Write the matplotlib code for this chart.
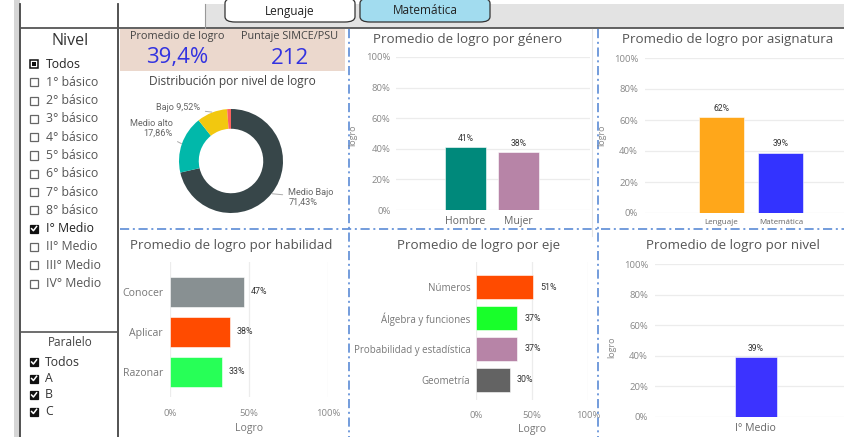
import matplotlib
matplotlib.use('Agg')
import matplotlib.pyplot as plt
from matplotlib.patches import Rectangle, FancyBboxPatch
from matplotlib.lines import Line2D
from matplotlib.ticker import PercentFormatter, MultipleLocator
import numpy as np

plt.rcParams['font.family'] = ['Open Sans', 'DejaVu Sans']

# slicers
niveles = ['Todos', '1° básico', '2° básico', '3° básico', '4° básico', '5° básico',
           '6° básico', '7° básico', '8° básico', 'I° Medio', 'II° Medio',
           'III° Medio', 'IV° Medio']
nivel_sel = ['I° Medio']
paralelos = ['Todos', 'A', 'B', 'C']
asignatura_btn = ['Lenguaje', 'Matemática']

# KPIs
promedio_logro = 39.4
puntaje_simce = 212

# distribucion por nivel de logro (%)
dist_labels = ['Medio Bajo', 'Medio alto', 'Bajo', 'Alto']
dist_values = [71.43, 17.86, 9.52, 1.19]
dist_colors = ['#374649', '#01b8aa', '#f2c80f', '#fd625e']

genero = ['Hombre', 'Mujer']
logro_genero = [0.41, 0.38]
asignaturas = ['Lenguaje', 'Matemática']
logro_asig = [0.62, 0.39]
habilidades = ['Conocer', 'Aplicar', 'Razonar']
logro_hab = [0.47, 0.38, 0.33]
ejes = ['Números', 'Álgebra y funciones', 'Probabilidad y estadística', 'Geometría']
logro_eje = [0.51, 0.37, 0.37, 0.30]
nivel_cat = ['I° Medio']
logro_nivel = [0.39]

W, H = 845, 437
fig = plt.figure(figsize=(W / 100, H / 100), dpi=100)

def box(x0, y0, x1, y1):
    return [x0 / W, 1 - y1 / H, (x1 - x0) / W, (y1 - y0) / H]

def ftext(x, y, s, **kw):
    kw.setdefault('ha', 'center')
    kw.setdefault('va', 'center')
    return fig.text(x / W, 1 - y / H, s, **kw)

def fline(xs, ys, **kw):
    fig.add_artist(Line2D([x / W for x in xs], [1 - y / H for y in ys],
                          transform=fig.transFigure, **kw))

def frect(x0, y0, x1, y1, **kw):
    fig.add_artist(Rectangle((x0 / W, 1 - y1 / H), (x1 - x0) / W, (y1 - y0) / H,
                             transform=fig.transFigure, **kw))

# --- page chrome ---
frect(14, 0, 20, H, fc='#d6d6d6', ec='none')
frect(205, 4, W, 28, fc='#e3e3e3', ec='none')
fline([20, 20], [4, H], color='#444', lw=1.3)
fline([118, 118], [4, H], color='#444', lw=1.3)
fline([20, W], [28, 28], color='#555', lw=1.3)
fline([20, 118], [332, 332], color='#555', lw=1.2)
fline([205, 205], [4, 28], color='#999', lw=0.8)

btn_x = [225, 360]
btn_fc = ['white', '#a2dcef']
for name, x, fc in zip(asignatura_btn, btn_x, btn_fc):
    fig.add_artist(FancyBboxPatch(((x) / W, 1 - 22 / H), 130 / W, 24 / H,
                                  boxstyle='round,pad=0,rounding_size=0.012',
                                  transform=fig.transFigure, fc=fc, ec='#333', lw=0.9))
    ftext(x + 65, 11, name, fontsize=8.5, color='#222')

# --- slicers ---
def checkbox(x, y, state):
    s = 8
    if state == 'off':
        frect(x, y - s / 2, x + s, y + s / 2, fc='white', ec='#666', lw=0.9)
    elif state == 'partial':
        frect(x, y - s / 2, x + s, y + s / 2, fc='white', ec='#111', lw=1.1)
        frect(x + 2, y - s / 2 + 2, x + s - 2, y + s / 2 - 2, fc='#111', ec='none')
    else:
        frect(x, y - s / 2, x + s, y + s / 2, fc='#111', ec='#111', lw=0.9)
        fline([x + 1.6, x + 3.4, x + 6.6], [y, y + 2, y - 2.2], color='white', lw=1.1)

ftext(70, 41, 'Nivel', fontsize=11.5, color='#333')
for i, n in enumerate(niveles):
    y = 64 + i * 18.3
    if n == 'Todos':
        st = 'partial'
    elif n in nivel_sel:
        st = 'on'
    else:
        st = 'off'
    checkbox(30, y, st)
    ftext(46, y, n, ha='left', fontsize=8.8, color='#222' if st != 'off' else '#555')

ftext(70, 342, 'Paralelo', fontsize=8.5, color='#444')
for i, p in enumerate(paralelos):
    y = 362 + i * 16.5
    checkbox(30, y, 'on')
    ftext(45, y, p, ha='left', fontsize=8.8, color='#333')

# --- KPI card ---
frect(120, 29, 345, 71, fc='#ebd8cd', ec='none')
ftext(177, 37, 'Promedio de logro', fontsize=7.8, color='#444')
ftext(290, 37, 'Puntaje SIMCE/PSU', fontsize=7.8, color='#444')
ftext(177, 58, f'{promedio_logro:.1f}%'.replace('.', ','), fontsize=16, color='#3333e0')
ftext(290, 58, f'{puntaje_simce}', fontsize=16, color='#3333e0')

# --- donut ---
ftext(232, 81, 'Distribución por nivel de logro', fontsize=8.6, color='#444')
cx, cy, r = 231, 161, 52
axd = fig.add_axes(box(cx - 60, cy - 60, cx + 60, cy + 60))
wedges, _ = axd.pie(dist_values, colors=dist_colors, startangle=90, counterclock=False,
                    wedgeprops=dict(width=0.38, edgecolor='none'))
axd.set_xlim(-60 / r, 60 / r)
axd.set_ylim(-60 / r, 60 / r)
axd.set_aspect('equal')
axd.axis('off')

lab_pos = {'Medio Bajo': ((1.1, -0.7), 'left'),
           'Medio alto': ((-1.12, 0.63), 'right'),
           'Bajo': ((-0.6, 1.02), 'right')}
for w, lab, v in zip(wedges, dist_labels, dist_values):
    if lab not in lab_pos:
        continue
    ang = np.deg2rad((w.theta1 + w.theta2) / 2)
    px, py = np.cos(ang) * 1.01, np.sin(ang) * 1.01
    val = f'{v:.2f}%'.replace('.', ',')
    txt = f'{lab} {val}' if lab == 'Bajo' else f'{lab}\n{val}'
    (tx, ty), ha = lab_pos[lab]
    axd.annotate(txt, xy=(px, py), xytext=(tx, ty), ha=ha, va='center',
                 multialignment=ha, fontsize=6.6, color='#666', family='Roboto',
                 linespacing=1.1, annotation_clip=False,
                 arrowprops=dict(arrowstyle='-', color='#aaa', lw=0.7,
                                 shrinkA=2, shrinkB=0))

# --- separators ---
dash = dict(color='#5b8bd6', lw=1.2, linestyle=(0, (5.5, 2.2, 1.2, 2.2)))
fline([349, 349], [29, H], **dash)
fline([598, 598], [29, H], **dash)
fline([120, W], [229, 229], **dash)
fline([592, 592], [29, 236], color='#e4e4e4', lw=0.8)

TICK = '#888'
GRID = '#ececec'

def style(ax, grid_axis):
    for s in ax.spines.values():
        s.set_visible(False)
    ax.tick_params(length=0, colors=TICK, labelsize=6.8)
    ax.grid(axis=grid_axis, color=GRID, lw=0.9)
    ax.set_axisbelow(True)

def vbars(ax, cats, vals, colors, width):
    x = np.arange(len(cats))
    bars = ax.bar(x, vals, width=width, color=colors, edgecolor='white', lw=0.4)
    for b, v in zip(bars, vals):
        ax.annotate(f'{v:.0%}', (b.get_x() + b.get_width() / 2, v), xytext=(0, 3),
                    textcoords='offset points', ha='center', va='bottom',
                    fontsize=6.2, color='#333', family='Roboto')
    ax.set_xticks(x, cats)
    ax.set_ylim(0, 1)
    ax.yaxis.set_major_locator(MultipleLocator(0.2))
    ax.yaxis.set_major_formatter(PercentFormatter(1, decimals=0))

def hbars(ax, cats, vals, colors, height):
    y = np.arange(len(cats))
    bars = ax.barh(y, vals, height=height, color=colors, edgecolor='white', lw=0.4)
    for b, v in zip(bars, vals):
        ax.annotate(f'{v:.0%}', (v, b.get_y() + b.get_height() / 2), xytext=(5, 0),
                    textcoords='offset points', ha='left', va='center',
                    fontsize=6.4, color='#333', family='Roboto')
    ax.set_yticks(y, cats)
    ax.set_xlim(0, 1)
    ax.xaxis.set_major_locator(MultipleLocator(0.5))
    ax.xaxis.set_major_formatter(PercentFormatter(1, decimals=0))

# genero
ftext(468, 39, 'Promedio de logro por género', fontsize=9.6, color='#555')
ax1 = fig.add_axes(box(396, 57, 590, 210))
style(ax1, 'y')
vbars(ax1, genero, logro_genero, ['#00897b', '#b784a7'], 0.77)
ax1.set_xlim(-1.32, 2.36)
ax1.tick_params(axis='x', labelsize=7.6, colors='#666', pad=4)
ax1.tick_params(axis='y', pad=4)
ftext(353, 135, 'logro', rotation=90, fontsize=6.5, color='#888')

# asignatura
ftext(728, 39, 'Promedio de logro por asignatura', fontsize=9.6, color='#555')
ax2 = fig.add_axes(box(645, 58, 845, 213))
style(ax2, 'y')
vbars(ax2, asignaturas, logro_asig, ['#ffa71a', '#3333ff'], 0.75)
ax2.set_xlim(-1.27, 2.07)
ax2.tick_params(axis='x', labelsize=5.8, colors='#666', pad=4)
ax2.tick_params(axis='y', pad=5)
ftext(602, 135, 'logro', rotation=90, fontsize=6.5, color='#888')

# habilidad
ftext(231, 245, 'Promedio de logro por habilidad', fontsize=9.6, color='#555')
ax3 = fig.add_axes(box(170, 262, 328, 397))
style(ax3, 'x')
hbars(ax3, habilidades, logro_hab, ['#889092', '#ff4b00', '#27ff57'], 0.75)
ax3.set_ylim(2.625, -0.75)
ax3.tick_params(axis='y', labelsize=7.6, colors='#777', pad=5)
ax3.tick_params(axis='x', pad=9)
ax3.set_xlabel('Logro', fontsize=7.6, color='#777', labelpad=3)

# eje
ftext(479, 245, 'Promedio de logro por eje', fontsize=9.6, color='#555')
ax4 = fig.add_axes(box(476, 262, 588, 400))
style(ax4, 'x')
hbars(ax4, ejes, logro_eje, ['#ff4b00', '#18ff2a', '#b784a7', '#636363'], 0.8)
ax4.set_ylim(3.65, -0.81)
ax4.tick_params(axis='y', labelsize=7, colors='#777', pad=4)
ax4.tick_params(axis='x', pad=8)
ax4.set_xlabel('Logro', fontsize=7.6, color='#777', labelpad=3)

# nivel
ftext(733, 245, 'Promedio de logro por nivel', fontsize=9.6, color='#555')
ax5 = fig.add_axes(box(655, 264, 845, 417))
style(ax5, 'y')
vbars(ax5, nivel_cat, logro_nivel, ['#3c33ff'], 0.4)
ax5.set_xlim(-0.96, 0.85)
ax5.tick_params(axis='x', labelsize=7.6, colors='#666', pad=4)
ax5.tick_params(axis='y', pad=5)
ftext(612, 347, 'logro', rotation=90, fontsize=6.5, color='#888')

fig.savefig('out.png', dpi=100)
